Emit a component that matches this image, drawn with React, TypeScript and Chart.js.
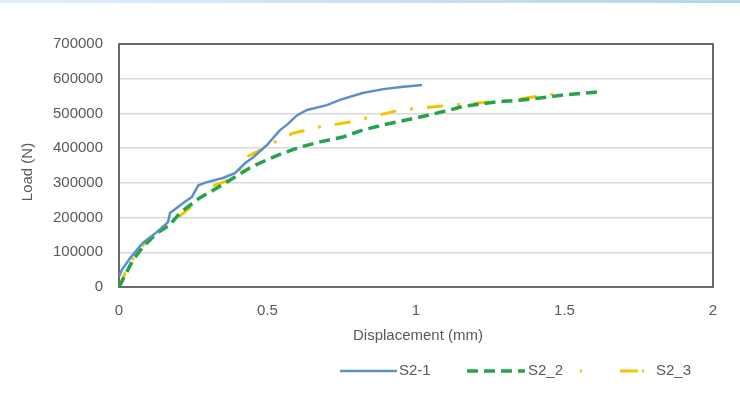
import React, { useEffect, useRef } from "react";
import { Chart, registerables } from "chart.js";

Chart.register(...registerables);

const seriesNames = ["S2-1", "S2_2", "S2_3"];

const dispS21 = [0, 0.01, 0.037, 0.08, 0.127, 0.165, 0.172, 0.216, 0.245, 0.267, 0.296, 0.35, 0.39, 0.425, 0.452, 0.498, 0.542, 0.565, 0.6, 0.633, 0.7, 0.744, 0.82, 0.89, 0.95, 1.02];
const loadS21 = [30000, 50000, 83000, 127000, 158000, 187000, 213000, 242000, 259000, 293000, 302000, 314000, 328000, 357000, 374000, 409000, 452000, 467000, 495000, 510000, 524000, 539000, 559000, 570000, 576000, 582000];

const dispS22 = [0, 0.047, 0.08, 0.127, 0.17, 0.205, 0.27, 0.33, 0.385, 0.44, 0.497, 0.553, 0.61, 0.677, 0.754, 0.82, 0.89, 1.0, 1.115, 1.158, 1.27, 1.384, 1.495, 1.61];
const loadS22 = [0, 78000, 115000, 155000, 178000, 213000, 256000, 285000, 314000, 343000, 366000, 386000, 403000, 418000, 432000, 452000, 467000, 487000, 510000, 520000, 533000, 541000, 553000, 562000];

const dispS23 = [0, 0.03, 0.08, 0.12, 0.17, 0.22, 0.27, 0.306, 0.36, 0.4, 0.43, 0.47, 0.52, 0.586, 0.68, 0.778, 0.946, 1.125, 1.316, 1.485];
const loadS23 = [0, 60000, 120000, 150000, 180000, 215000, 250000, 288000, 305000, 330000, 375000, 392000, 415000, 443000, 462000, 475000, 510000, 524000, 538000, 558000];

const xTicks = [0, 0.5, 1, 1.5, 2];
const yTicks = [0, 100000, 200000, 300000, 400000, 500000, 600000, 700000];

const xTitle = "Displacement (mm)";
const yTitle = "Load (N)";

const colors = ["#5B8FCB", "#25A24C", "#F5C400"];
const dashes: number[][] = [[], [11, 6], [16, 14, 3, 14]];
const widths = [2.5, 3.5, 3];

const FONT = "'Liberation Sans', Arial, sans-serif";
const TEXT = "#595959";

const toPts = (xs: number[], ys: number[]) => xs.map((x, i) => ({ x, y: ys[i] }));

export default function App() {
  const ref = useRef<HTMLCanvasElement | null>(null);
  useEffect(() => {
    if (!ref.current) return;
    const series = [toPts(dispS21, loadS21), toPts(dispS22, loadS22), toPts(dispS23, loadS23)];
    const decor = {
      id: "decor",
      beforeDatasetsDraw(chart: any) {
        const { ctx, chartArea: a } = chart;
        ctx.save();
        ctx.strokeStyle = "#6a6a6a";
        ctx.lineWidth = 2;
        ctx.strokeRect(a.left, a.top, a.right - a.left, a.bottom - a.top);
        ctx.restore();
      },
      afterDraw(chart: any) {
        const { ctx, chartArea: a } = chart;
        ctx.save();
        ctx.fillStyle = TEXT;
        ctx.font = `15px ${FONT}`;
        ctx.textAlign = "center";
        ctx.textBaseline = "middle";
        ctx.fillText(xTitle, (a.left + a.right) / 2 + 2, 336);
        ctx.save();
        ctx.translate(28, 172);
        ctx.rotate(-Math.PI / 2);
        ctx.fillText(yTitle, 0, 0);
        ctx.restore();
        // legend
        const items = [
          { x0: 340, x1: 397, tx: 399 },
          { x0: 467, x1: 525, tx: 528 },
          { x0: 580, x1: 644, tx: 656 },
        ];
        const ly = 371;
        items.forEach((it, i) => {
          ctx.strokeStyle = colors[i];
          ctx.lineWidth = widths[i];
          ctx.setLineDash(i === 2 ? [2, 38, 18, 4, 3, 40] : dashes[i]);
          ctx.beginPath();
          ctx.moveTo(it.x0, ly);
          ctx.lineTo(it.x1, ly);
          ctx.stroke();
          ctx.setLineDash([]);
          ctx.fillStyle = TEXT;
          ctx.textAlign = "left";
          ctx.fillText(seriesNames[i], it.tx, ly);
        });
        ctx.restore();
      },
    };
    const chart = new Chart(ref.current, {
      type: "scatter",
      data: {
        datasets: series.map((data, i) => ({
          label: seriesNames[i],
          data,
          showLine: true,
          borderColor: colors[i],
          backgroundColor: colors[i],
          borderWidth: widths[i],
          borderDash: dashes[i],
          pointRadius: 0,
          tension: 0,
          fill: false,
        })),
      },
      options: {
        animation: false,
        responsive: false,
        devicePixelRatio: 1,
        layout: { padding: { top: 44, right: 27, left: 0, bottom: 0 } },
        plugins: { legend: { display: false }, tooltip: { enabled: false } },
        scales: {
          x: {
            type: "linear",
            min: xTicks[0],
            max: xTicks[xTicks.length - 1],
            afterBuildTicks: (s: any) => { s.ticks = xTicks.map((v) => ({ value: v })); },
            afterFit: (s: any) => { s.height = 110; },
            grid: { display: false, drawTicks: false },
            border: { display: false },
            ticks: {
              padding: 15,
              color: TEXT,
              font: { family: FONT, size: 15 },
              maxRotation: 0,
              callback: (v: any) => String(v),
            },
          },
          y: {
            type: "linear",
            min: yTicks[0],
            max: yTicks[yTicks.length - 1],
            afterBuildTicks: (s: any) => { s.ticks = yTicks.map((v) => ({ value: v })); },
            afterFit: (s: any) => { s.width = 119; },
            grid: { color: "#d9d9d9", lineWidth: 1.5, drawTicks: false },
            border: { display: false },
            ticks: {
              padding: 16,
              color: TEXT,
              font: { family: FONT, size: 15 },
              callback: (v: any) => String(v),
            },
          },
        },
      },
      plugins: [decor],
    });
    return () => chart.destroy();
  }, []);
  return (
    <div style={{ position: "fixed", left: 0, top: 0, width: 740, height: 397, background: "#fff" }}>
      <div style={{ position: "absolute", left: 0, top: 0, width: 740, height: 3, background: "linear-gradient(to right, #e4eef7, #b3d5ea)" }} />
      <canvas ref={ref} width={740} height={397} style={{ display: "block" }} />
    </div>
  );
}
